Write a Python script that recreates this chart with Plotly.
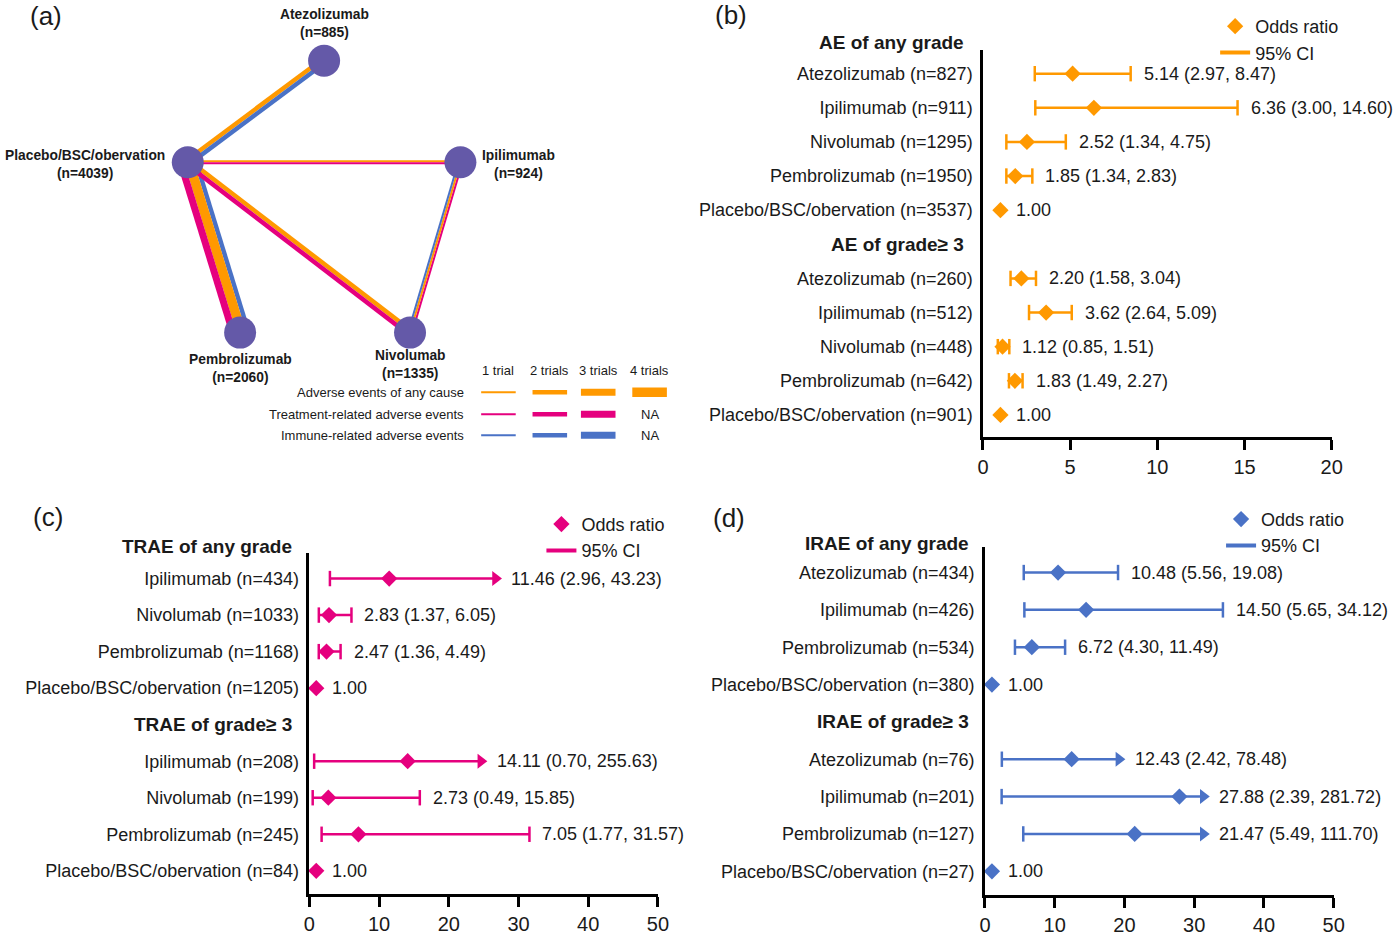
import plotly.graph_objects as go

FONT = "Liberation Sans, Arial, Helvetica, sans-serif"
C_AE = "#FF9900"
C_TR = "#E5007E"
C_IR = "#4A72C6"
C_NODE = "#6459A8"
TXT = "#1a1a1a"

# ---------------- Panel (a): network data ----------------
node_names = ["Atezolizumab", "Placebo/BSC/obervation", "Ipilimumab", "Pembrolizumab", "Nivolumab"]
node_n = [885, 4039, 924, 2060, 1335]

edge_from = ["Placebo/BSC/obervation", "Placebo/BSC/obervation", "Placebo/BSC/obervation",
             "Placebo/BSC/obervation", "Ipilimumab"]
edge_to = ["Atezolizumab", "Ipilimumab", "Pembrolizumab", "Nivolumab", "Nivolumab"]
edge_ae_trials = [2, 1, 4, 2, 1]
edge_trae_trials = [0, 1, 3, 2, 1]
edge_irae_trials = [2, 0, 2, 0, 1]

legend_rows = ["Adverse events of any cause", "Treatment-related adverse events", "Immune-related adverse events"]
legend_max_trials = [4, 3, 3]
trial_labels = ["1 trial", "2 trials", "3 trials", "4 trials"]

# ---------------- Panel (b): AE ----------------
b_any_labels = ["Atezolizumab (n=827)", "Ipilimumab (n=911)", "Nivolumab (n=1295)",
                "Pembrolizumab (n=1950)", "Placebo/BSC/obervation (n=3537)"]
b_any_or = [5.14, 6.36, 2.52, 1.85, 1.00]
b_any_lo = [2.97, 3.00, 1.34, 1.34, 1.00]
b_any_hi = [8.47, 14.60, 4.75, 2.83, 1.00]
b_any_arrow = [None, None, None, None, None]
b_g3_labels = ["Atezolizumab (n=260)", "Ipilimumab (n=512)", "Nivolumab (n=448)",
               "Pembrolizumab (n=642)", "Placebo/BSC/obervation (n=901)"]
b_g3_or = [2.20, 3.62, 1.12, 1.83, 1.00]
b_g3_lo = [1.58, 2.64, 0.85, 1.49, 1.00]
b_g3_hi = [3.04, 5.09, 1.51, 2.27, 1.00]
b_g3_arrow = [None, None, None, None, None]

# ---------------- Panel (c): TRAE ----------------
c_any_labels = ["Ipilimumab (n=434)", "Nivolumab (n=1033)", "Pembrolizumab (n=1168)",
                "Placebo/BSC/obervation (n=1205)"]
c_any_or = [11.46, 2.83, 2.47, 1.00]
c_any_lo = [2.96, 1.37, 1.36, 1.00]
c_any_hi = [43.23, 6.05, 4.49, 1.00]
c_any_arrow = [26.7, None, None, None]
c_g3_labels = ["Ipilimumab (n=208)", "Nivolumab (n=199)", "Pembrolizumab (n=245)",
               "Placebo/BSC/obervation (n=84)"]
c_g3_or = [14.11, 2.73, 7.05, 1.00]
c_g3_lo = [0.70, 0.49, 1.77, 1.00]
c_g3_hi = [255.63, 15.85, 31.57, 1.00]
c_g3_arrow = [24.6, None, None, None]

# ---------------- Panel (d): IRAE ----------------
d_any_labels = ["Atezolizumab (n=434)", "Ipilimumab (n=426)", "Pembrolizumab (n=534)",
                "Placebo/BSC/obervation (n=380)"]
d_any_or = [10.48, 14.50, 6.72, 1.00]
d_any_lo = [5.56, 5.65, 4.30, 1.00]
d_any_hi = [19.08, 34.12, 11.49, 1.00]
d_any_arrow = [None, None, None, None]
d_g3_labels = ["Atezolizumab (n=76)", "Ipilimumab (n=201)", "Pembrolizumab (n=127)",
               "Placebo/BSC/obervation (n=27)"]
d_g3_or = [12.43, 27.88, 21.47, 1.00]
d_g3_lo = [2.42, 2.39, 5.49, 1.00]
d_g3_hi = [78.48, 281.72, 111.70, 1.00]
d_g3_arrow = [19.2, 31.3, 31.3, None]

# ================= layout helpers (positions/styles) =================
node_pos = {  # pixel layout inside panel (a)
    "Atezolizumab": (322, 61),
    "Placebo/BSC/obervation": (184, 163),
    "Ipilimumab": (460, 163),
    "Pembrolizumab": (237, 334),
    "Nivolumab": (409, 334),
}
edge_stack = [["ae", "irae"], ["ae", "trae"], ["irae", "ae", "trae"], ["ae", "trae"], ["trae", "ae", "irae"]]
type_color = {"ae": C_AE, "trae": C_TR, "irae": C_IR}
trial_width = {1: 2.0, 2: 4.5, 3: 7.0, 4: 9.5}

fig = go.Figure()

# ---------------- Panel (a) drawing ----------------
trials_by_type = {"ae": edge_ae_trials, "trae": edge_trae_trials, "irae": edge_irae_trials}
for ei in range(len(edge_from)):
    x1, y1 = node_pos[edge_from[ei]]
    x2, y2 = node_pos[edge_to[ei]]
    dx, dy = x2 - x1, y2 - y1
    L = (dx * dx + dy * dy) ** 0.5
    nx, ny = -dy / L, dx / L
    types = [t for t in edge_stack[ei] if trials_by_type[t][ei] > 0]
    widths = [trial_width[trials_by_type[t][ei]] for t in types]
    W = sum(widths)
    cum = 0
    for t, w in zip(types, widths):
        off = -W / 2 + cum + w / 2
        cum += w
        fig.add_trace(go.Scatter(
            x=[x1 + nx * off, x2 + nx * off], y=[y1 + ny * off, y2 + ny * off],
            mode="lines", line=dict(color=type_color[t], width=w),
            xaxis="x", yaxis="y", showlegend=False, hoverinfo="skip"))

fig.add_trace(go.Scatter(
    x=[node_pos[n][0] for n in node_names], y=[node_pos[n][1] for n in node_names],
    mode="markers", marker=dict(size=32, color=C_NODE), xaxis="x", yaxis="y",
    showlegend=False, hoverinfo="skip", cliponaxis=False))

annotations = []
label_place = {
    "Atezolizumab": (322, 24),
    "Placebo/BSC/obervation": (80, 165),
    "Ipilimumab": (519, 165),
    "Pembrolizumab": (237, 370),
    "Nivolumab": (409, 366),
}
for name, n in zip(node_names, node_n):
    lx, ly = label_place[name]
    annotations.append(dict(x=lx, y=ly, xref="x", yref="y", showarrow=False,
                            text=f"<b>{name}<br>(n={n})</b>", align="center",
                            font=dict(family=FONT, size=13.8, color=TXT)))

# legend table for panel (a)
col_x = [(481, 516), (533, 568), (582, 617), (634, 669)]
row_y = [394, 416, 437]
for ci, lab in enumerate(trial_labels):
    annotations.append(dict(x=(col_x[ci][0] + col_x[ci][1]) / 2, y=372, xref="x", yref="y",
                            showarrow=False, text=lab, font=dict(family=FONT, size=13, color=TXT)))
for ri, (lab, mx, t) in enumerate(zip(legend_rows, legend_max_trials, ["ae", "trae", "irae"])):
    annotations.append(dict(x=466, y=row_y[ri], xref="x", yref="y", xanchor="right",
                            showarrow=False, text=lab, font=dict(family=FONT, size=13, color=TXT)))
    for ci in range(4):
        if ci + 1 <= mx:
            fig.add_trace(go.Scatter(x=list(col_x[ci]), y=[row_y[ri], row_y[ri]], mode="lines",
                                     line=dict(color=type_color[t], width=trial_width[ci + 1]),
                                     xaxis="x", yaxis="y", showlegend=False, hoverinfo="skip"))
        else:
            annotations.append(dict(x=(col_x[ci][0] + col_x[ci][1]) / 2, y=row_y[ri], xref="x", yref="y",
                                    showarrow=False, text="NA", font=dict(family=FONT, size=13, color=TXT)))

# y ranges (bottom, top) of the forest panels, in row units
yr = {2: (11.66, 0.3), 3: (9.64, 0.29), 4: (9.64, 0.307)}


# ---------------- forest helper ----------------
def forest(n, groups, headers, color, legend_id, header1_k, header_gap):
    xa = "x" + str(n)
    ya = "y" + str(n)
    r0, r1 = yr[n]
    rows = []
    header_pos = [header1_k]
    k = 1
    for gi, g in enumerate(groups):
        if gi > 0:
            header_pos.append(k)
            k += 1
        labels, ors, los, his, arrows = g
        for i in range(len(labels)):
            rows.append((k, labels[i], ors[i], los[i], his[i], arrows[i]))
            k += 1
    lx, ly = [], []
    cap_x, cap_y, arr_x, arr_y = [], [], [], []
    for (k, lab, o, lo, hi, ar) in rows:
        if lo == hi:
            continue
        end = ar if ar is not None else hi
        lx += [lo, end, None]
        ly += [k, k, None]
        cap_x.append(lo); cap_y.append(k)
        if ar is None:
            cap_x.append(hi); cap_y.append(k)
        else:
            arr_x.append(ar); arr_y.append(k)
    fig.add_trace(go.Scatter(x=lx, y=ly, mode="lines", line=dict(color=color, width=2.5),
                             showlegend=False, xaxis=xa, yaxis=ya,
                             hoverinfo="skip", cliponaxis=False))
    # legend-only entry for the CI line (thicker sample, as in the original key)
    fig.add_trace(go.Scatter(x=[None], y=[None], mode="lines", line=dict(color=color, width=4),
                             name="95% CI", legend=legend_id, legendrank=2, xaxis=xa, yaxis=ya,
                             hoverinfo="skip"))
    fig.add_trace(go.Scatter(x=cap_x, y=cap_y, mode="markers",
                             marker=dict(symbol="line-ns", size=11, line=dict(color=color, width=2.5)),
                             showlegend=False, xaxis=xa, yaxis=ya, hoverinfo="skip", cliponaxis=False))
    if arr_x:
        fig.add_trace(go.Scatter(x=arr_x, y=arr_y, mode="markers",
                                 marker=dict(symbol="triangle-right", size=13, color=color),
                                 showlegend=False, xaxis=xa, yaxis=ya, hoverinfo="skip", cliponaxis=False))
    fig.add_trace(go.Scatter(x=[r[2] for r in rows], y=[r[0] for r in rows], mode="markers",
                             marker=dict(symbol="diamond", size=12.5, color=color),
                             name="Odds ratio", legend=legend_id, legendrank=1, xaxis=xa, yaxis=ya,
                             hoverinfo="skip", cliponaxis=False))
    for (k, lab, o, lo, hi, ar) in rows:
        if lo == hi:
            txt, xv, sh = f"{o:.2f}", o, 14
        elif ar is not None:
            txt, xv, sh = f"{o:.2f} ({lo:.2f}, {hi:.2f})", ar, 14
        else:
            txt, xv, sh = f"{o:.2f} ({lo:.2f}, {hi:.2f})", hi, 11
        annotations.append(dict(x=xv, y=k, xref=xa, yref=ya, xanchor="left", xshift=sh,
                                showarrow=False, text=txt, font=dict(family=FONT, size=18, color=TXT)))
    for hp, ht in zip(header_pos, headers):
        yd = (r0 - hp) / (r0 - r1)
        annotations.append(dict(x=0, y=yd, xref=xa + " domain", yref=ya + " domain", xanchor="right",
                                yanchor="middle", xshift=-header_gap, showarrow=False, text=f"<b>{ht}</b>",
                                font=dict(family=FONT, size=19, color=TXT)))
    return [r[0] for r in rows], [r[1] for r in rows]


b_vals, b_text = forest(2, [(b_any_labels, b_any_or, b_any_lo, b_any_hi, b_any_arrow),
                           (b_g3_labels, b_g3_or, b_g3_lo, b_g3_hi, b_g3_arrow)],
                        ["AE of any grade", "AE of grade\u2265 3"], C_AE, "legend", 0.1, 17)
c_vals, c_text = forest(3, [(c_any_labels, c_any_or, c_any_lo, c_any_hi, c_any_arrow),
                           (c_g3_labels, c_g3_or, c_g3_lo, c_g3_hi, c_g3_arrow)],
                        ["TRAE of any grade", "TRAE of grade\u2265 3"], C_TR, "legend2", 0.13, 15)
d_vals, d_text = forest(4, [(d_any_labels, d_any_or, d_any_lo, d_any_hi, d_any_arrow),
                           (d_g3_labels, d_g3_or, d_g3_lo, d_g3_hi, d_g3_arrow)],
                        ["IRAE of any grade", "IRAE of grade\u2265 3"], C_IR, "legend3", 0.23, 14)

# panel letters
for lab, px, py in [("(a)", 40, 16), ("(b)", 734, 15), ("(c)", 43, 519), ("(d)", 732, 520)]:
    annotations.append(dict(x=px / 1400, y=1 - py / 936, xref="paper", yref="paper", showarrow=False,
                            xanchor="center", yanchor="middle",
                            text=lab, font=dict(family=FONT, size=26, color=TXT)))

H = 936.0
W = 1400.0
xstyle = dict(showline=True, linewidth=2.5, linecolor="black", ticks="outside", ticklen=10,
              tickwidth=2.5, tickcolor="black", showgrid=False, zeroline=False,
              tickfont=dict(family=FONT, size=20, color=TXT))
ystyle = dict(showline=True, linewidth=2.5, linecolor="black", ticks="", ticklen=0, showgrid=False,
              zeroline=False, tickfont=dict(family=FONT, size=18, color=TXT), ticklabelstandoff=4)

legend_style = dict(font=dict(family=FONT, size=18, color=TXT), bgcolor="rgba(0,0,0,0)",
                    xanchor="left", yanchor="top", tracegroupgap=0, itemwidth=30)

fig.update_layout(
    width=1400, height=936, margin=dict(l=0, r=0, t=0, b=0),
    paper_bgcolor="white", plot_bgcolor="white",
    xaxis=dict(domain=[0, 0.5], range=[0, 700], visible=False),
    yaxis=dict(domain=[0.5, 1], range=[468, 0], visible=False),
    xaxis2=dict(domain=[989 / W, 1342 / W], range=[0, 20], tickvals=[0, 5, 10, 15, 20], anchor="y2", **xstyle),
    yaxis2=dict(domain=[1 - 439.3 / H, 1 - 50 / H], range=list(yr[2]), anchor="x2",
                tickvals=b_vals, ticktext=b_text, **ystyle),
    xaxis3=dict(domain=[307 / W, 660 / W], range=[0, 50], tickvals=[0, 10, 20, 30, 40, 50], anchor="y3", **xstyle),
    yaxis3=dict(domain=[1 - 898 / H, 1 - 555 / H], range=list(yr[3]), anchor="x3",
                tickvals=c_vals, ticktext=c_text, **ystyle),
    xaxis4=dict(domain=[991 / W, 1344 / W], range=[0, 50], tickvals=[0, 10, 20, 30, 40, 50], anchor="y4", **xstyle),
    yaxis4=dict(domain=[1 - 899 / H, 1 - 549 / H], range=list(yr[4]), anchor="x4",
                tickvals=d_vals, ticktext=d_text, **ystyle),
    legend=dict(x=1224 / W, y=1 - 8 / H, **legend_style),
    legend2=dict(x=542 / W, y=1 - 508 / H, **legend_style),
    legend3=dict(x=1230 / W, y=1 - 503 / H, **legend_style),
    annotations=annotations,
    showlegend=True,
)

fig.write_html("out.html", config={"displayModeBar": False},
               post_script="document.body.style.margin='0';")
